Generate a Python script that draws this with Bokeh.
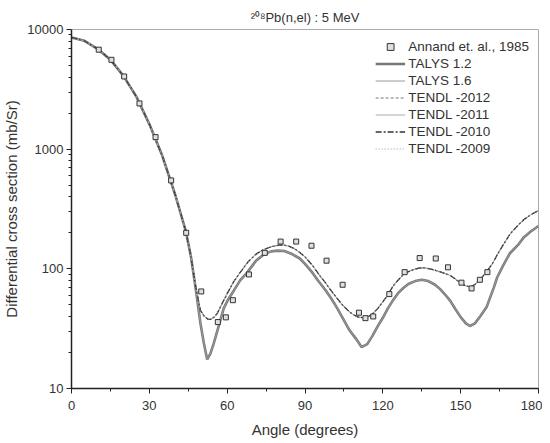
from bokeh.plotting import figure
from bokeh.models import (Range1d, FixedTicker, PrintfTickFormatter, Legend, LegendItem)
from bokeh.embed import file_html
from bokeh.resources import INLINE

# Experimental data: Annand et. al., 1985
angle_exp = [10.5, 15.4, 20.3, 26.2, 32.4, 38.4, 44.2, 50.0, 56.4, 59.5, 62.2, 68.4, 74.5,
             80.6, 86.6, 92.5, 98.3, 104.5, 110.8, 113.3, 116.3, 122.5, 128.4, 134.2,
             140.4, 145.1, 150.3, 154.2, 157.4, 160.3]
xs_exp = [6780, 5580, 4050, 2410, 1260, 548, 200, 64.7, 35.9, 39.3, 54.7, 89.8, 136,
          169, 169, 156, 117, 73.6, 43, 38.7, 40, 61.5, 93.8, 123,
          122, 103, 76.6, 68.6, 81, 93.8]

# TALYS curves (lower curve)
talys_angle = [0, 5, 10, 15, 20, 25, 30, 35, 40, 44, 46, 47.8, 49.7, 51, 52.3, 53.5, 54.8,
               56.7, 58.7, 60.5, 62.6, 65, 67.7, 71, 74.1, 77, 79.5, 82, 85, 88, 90, 93, 95,
               98, 100, 102.4, 104.5, 107, 109.4, 111.8, 114, 116, 118, 120, 122, 124, 126,
               128, 130, 132.5, 135, 137.5, 140, 142, 144, 146, 148, 150, 152, 153.6, 155.5,
               157.7, 160, 162.8, 164.1, 166.5, 169, 172.4, 174.4, 177, 180]
talys_xs = [8580, 8050, 6900, 5600, 4100, 2750, 1620, 880, 414, 209, 128, 70, 35, 24, 17.5,
            19.5, 23.7, 33, 47, 56, 66, 80, 93, 116, 132, 140, 142, 141, 133, 122, 110, 92,
            80, 66, 57, 47, 39, 31, 26.5, 22.2, 23.5, 27.5, 33, 39, 47, 55, 63, 69.5, 75, 79,
            81, 79, 74, 68, 61, 54, 46, 39.5, 35, 33.3, 35, 40.6, 48, 70, 85, 108, 135, 161,
            184, 205, 228]

# TENDL curves (upper curve)
tendl_angle = [0, 5, 10, 15, 20, 25, 30, 35, 40, 44, 46, 47.8, 49.7, 51, 52.5, 53.6, 55,
               56.2, 58, 60, 62.5, 65.1, 68, 71, 74, 77, 80, 82, 84, 86, 88, 90, 93, 96, 98,
               100, 102, 104.4, 106.5, 108.5, 110.5, 112.7, 114.5, 116, 118, 120, 122, 124,
               126, 128, 130, 132, 134, 136, 138, 140, 143, 146, 148, 150, 152, 153.8, 155.5,
               157.7, 160, 162.2, 164, 166.5, 169, 172.4, 174.4, 177, 180]
tendl_xs = [8580, 8050, 6900, 5600, 4100, 2750, 1620, 880, 414, 209, 128, 72, 45, 40.5, 38,
            37.8, 39.5, 42.5, 51, 62, 78, 94, 114, 132, 145, 153, 158, 158, 154, 147, 137,
            126, 106, 86, 76, 66, 58, 50, 45, 41.5, 39.5, 39, 40, 42, 46.5, 53, 61, 72, 81,
            90, 95, 99, 101.5, 102, 100, 97.5, 93, 88, 82, 76, 72, 70.5, 74, 82, 95, 110,
            130, 160, 195, 235, 258, 283, 307]

x_ticks = [0, 30, 60, 90, 120, 150, 180]
y_ticks = [10, 100, 1000, 10000]

FONT = "Liberation Sans"

p = figure(width=542, height=440, y_axis_type="log", output_backend="svg",
           toolbar_location=None, x_range=Range1d(0, 180), y_range=Range1d(10, 10000),
           min_border_left=71, min_border_right=4, min_border_top=29, min_border_bottom=52)

p.title.text = "\u00b2\u2070\u2078Pb(n,el) : 5 MeV"
p.title.align = "center"
p.title.text_font = FONT
p.title.text_font_size = "13px"
p.title.text_font_style = "normal"
p.title.text_color = "#333333"
p.title.offset = 0
p.title.standoff = 10

p.xgrid.visible = False
p.ygrid.visible = False
p.outline_line_color = "#aaaaaa"
p.outline_line_width = 1
p.background_fill_color = "white"
p.border_fill_color = "white"

p.xaxis.ticker = FixedTicker(ticks=x_ticks, minor_ticks=[15, 45, 75, 105, 135, 165])
p.yaxis.ticker = FixedTicker(ticks=y_ticks,
                             minor_ticks=[m * d for d in (10, 100, 1000) for m in range(2, 10)])
p.yaxis.formatter = PrintfTickFormatter(format="%d")
p.xaxis.axis_label = "Angle (degrees)"
p.yaxis.axis_label = "Differential cross section (mb/Sr)"
for ax in (p.xaxis, p.yaxis):
    ax.axis_line_color = "#222222"
    ax.axis_line_width = 1.5
    ax.major_tick_line_color = "#222222"
    ax.minor_tick_line_color = "#222222"
    ax.major_tick_out = 5
    ax.major_tick_in = 0
    ax.minor_tick_out = 3
    ax.minor_tick_in = 0
    ax.major_label_text_font = FONT
    ax.major_label_text_font_size = "13px"
    ax.major_label_text_color = "#333333"
    ax.axis_label_text_font = FONT
    ax.axis_label_text_font_size = "15px"
    ax.axis_label_text_font_style = "normal"
    ax.axis_label_text_color = "#333333"
p.xaxis.major_label_standoff = 7
p.xaxis.axis_label_standoff = 8
p.yaxis.major_label_standoff = 3
p.yaxis.axis_label_standoff = 4

# Lines
r_t12 = p.line(talys_angle, talys_xs, line_color="#777777", line_width=2.6)
r_t16 = p.line(talys_angle, talys_xs, line_color="#9a9a9a", line_width=1)
r_n12 = p.line(tendl_angle, tendl_xs, line_color="#777777", line_width=1, line_dash="3 2")
r_n11 = p.line(tendl_angle, tendl_xs, line_color="#aaaaaa", line_width=1)
r_n10 = p.line(tendl_angle, tendl_xs, line_color="#333333", line_width=1.3, line_dash="6 2 2 2")
r_n09 = p.line(tendl_angle, tendl_xs, line_color="#999999", line_width=1, line_dash="1 2")

r_exp = p.scatter(angle_exp, xs_exp, marker="square", size=5, fill_color="#e0e0e0",
                  line_color="#333333", line_width=1)

legend = Legend(items=[
    LegendItem(label="Annand et. al., 1985", renderers=[r_exp]),
    LegendItem(label="TALYS 1.2", renderers=[r_t12]),
    LegendItem(label="TALYS 1.6", renderers=[r_t16]),
    LegendItem(label="TENDL -2012", renderers=[r_n12]),
    LegendItem(label="TENDL -2011", renderers=[r_n11]),
    LegendItem(label="TENDL -2010", renderers=[r_n10]),
    LegendItem(label="TENDL -2009", renderers=[r_n09]),
], location="top_right")
legend.border_line_color = None
legend.background_fill_alpha = 0
legend.label_text_font = FONT
legend.label_text_font_size = "13.5px"
legend.label_text_color = "#333333"
legend.glyph_width = 30
legend.glyph_height = 17
legend.label_height = 17
legend.label_standoff = 3
legend.spacing = 0
legend.padding = 4
legend.margin = 9
p.add_layout(legend)

open("out.html", "w").write(file_html(p, INLINE))
